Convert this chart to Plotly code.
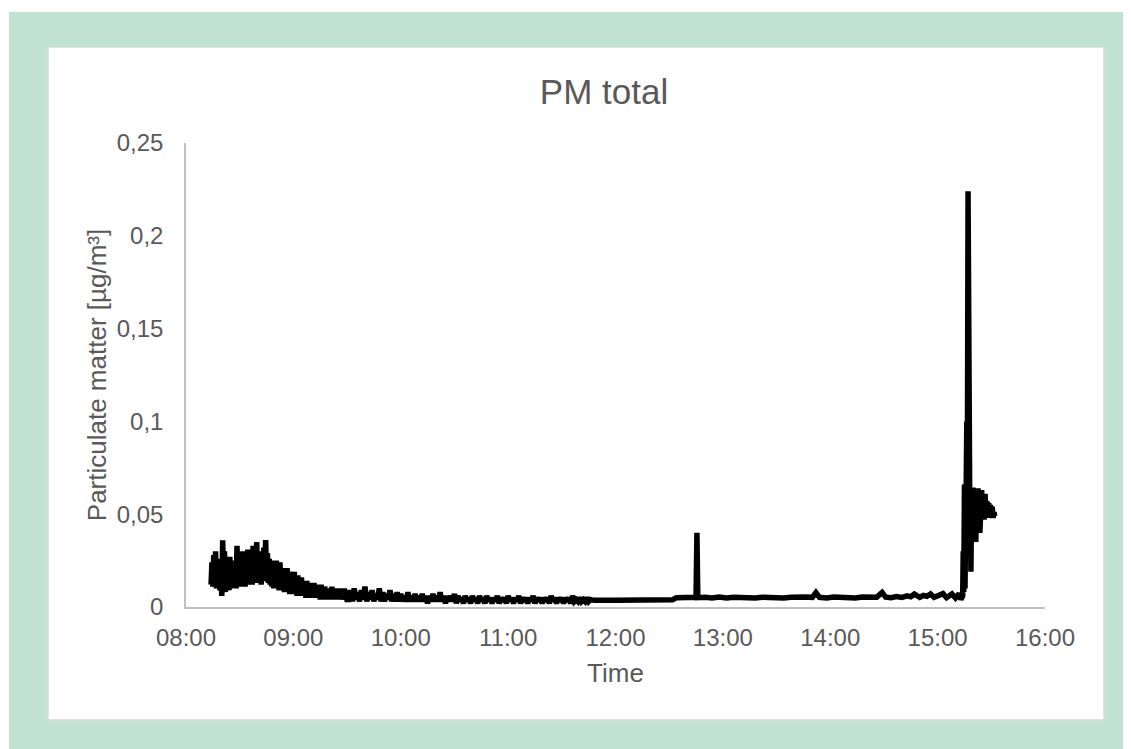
import plotly.graph_objects as go
from datetime import datetime, timedelta

# ---------------- data (minutes after 08:00, PM value) ----------------
# segment 1: every 30 s from 08:14:00 to 09:30:00
seg1_start, seg1_step = 14.0, 0.5
seg1_values = [
    0.012, 0.024, 0.011, 0.028, 0.013, 0.030, 0.010, 0.026, 0.012, 0.022,
    0.009, 0.018, 0.006, 0.036, 0.011, 0.030, 0.008, 0.024, 0.010, 0.020,
    0.009, 0.027, 0.011, 0.022, 0.010, 0.025, 0.012, 0.021, 0.010, 0.033,
    0.012, 0.028, 0.011, 0.024, 0.012, 0.030, 0.013, 0.026, 0.011, 0.028,
    0.013, 0.031, 0.012, 0.025, 0.014, 0.029, 0.012, 0.033, 0.013, 0.027,
    0.014, 0.035, 0.013, 0.028, 0.015, 0.030, 0.012, 0.026, 0.014, 0.032,
    0.015, 0.036, 0.016, 0.029, 0.013, 0.026, 0.012, 0.025, 0.011, 0.024,
    0.010, 0.022, 0.011, 0.025, 0.010, 0.021, 0.009, 0.024, 0.010, 0.020,
    0.009, 0.021, 0.008, 0.019, 0.009, 0.021, 0.008, 0.018, 0.007, 0.019,
    0.008, 0.017, 0.007, 0.019, 0.007, 0.016, 0.006, 0.017, 0.007, 0.015,
    0.006, 0.016, 0.006, 0.014, 0.007, 0.013, 0.005, 0.014, 0.006, 0.012,
    0.005, 0.013, 0.006, 0.011, 0.005, 0.013, 0.005, 0.011, 0.005, 0.012,
    0.005, 0.010, 0.004, 0.012, 0.005, 0.010, 0.004, 0.011, 0.005, 0.009,
    0.004, 0.010, 0.005, 0.009, 0.004, 0.011, 0.004, 0.009, 0.004, 0.010,
    0.004, 0.009, 0.004, 0.010, 0.004, 0.009, 0.004, 0.008, 0.004, 0.010,
    0.004, 0.009, 0.004,
]

# segment 2: every minute from 09:31 to 11:46
seg2_start, seg2_step = 91.0, 1.0
seg2_values = [
    0.004, 0.009, 0.003, 0.010, 0.004, 0.008, 0.003, 0.009, 0.004, 0.011,
    0.003, 0.008, 0.004, 0.009, 0.003, 0.007, 0.004, 0.010, 0.003, 0.008,
    0.003, 0.007, 0.004, 0.009, 0.003, 0.007, 0.003, 0.008, 0.003, 0.007,
    0.003, 0.006, 0.003, 0.008, 0.003, 0.006, 0.003, 0.007, 0.003, 0.006,
    0.003, 0.007, 0.003, 0.006, 0.002, 0.006, 0.003, 0.007, 0.003, 0.006,
    0.003, 0.008, 0.003, 0.006, 0.002, 0.006, 0.003, 0.006, 0.003, 0.007,
    0.002, 0.006, 0.003, 0.005, 0.002, 0.006, 0.003, 0.005, 0.002, 0.006,
    0.003, 0.005, 0.002, 0.006, 0.003, 0.005, 0.002, 0.006, 0.003, 0.005,
    0.002, 0.005, 0.003, 0.006, 0.002, 0.005, 0.003, 0.005, 0.002, 0.006,
    0.003, 0.005, 0.002, 0.005, 0.003, 0.006, 0.002, 0.005, 0.003, 0.005,
    0.002, 0.005, 0.003, 0.006, 0.002, 0.005, 0.003, 0.005, 0.002, 0.005,
    0.003, 0.005, 0.002, 0.006, 0.003, 0.005, 0.002, 0.005, 0.003, 0.005,
    0.002, 0.005, 0.003, 0.005, 0.002, 0.006, 0.003, 0.004, 0.003, 0.005,
    0.003, 0.004, 0.003, 0.005, 0.003, 0.004,
]

# segment 3: irregular readings 11:47 - 15:12
seg3_minutes = [228, 240, 250, 262, 272, 274, 280, 285, 285.5, 286, 290, 294, 298,
                302, 306, 310, 314, 318, 322, 326, 330, 334, 338, 342, 346, 350, 352,
                354, 358, 362, 366, 370, 374, 378, 382, 386, 389, 391, 394, 397, 400,
                403, 405, 407, 410, 412, 414, 416, 418, 420, 423, 425, 428, 430, 432]
seg3_values = [0.0036, 0.0037, 0.0036, 0.0038, 0.0039, 0.0050, 0.0050, 0.0052, 0.0400,
               0.0050, 0.0052, 0.0048, 0.0054, 0.0049, 0.0053, 0.0050, 0.0054, 0.0049,
               0.0053, 0.0050, 0.0054, 0.0049, 0.0053, 0.0050, 0.0054, 0.0052, 0.0078,
               0.0052, 0.0049, 0.0054, 0.0050, 0.0053, 0.0049, 0.0054, 0.0050, 0.0053,
               0.0078, 0.0053, 0.0050, 0.0056, 0.0052, 0.0060, 0.0055, 0.0070, 0.0052,
               0.0062, 0.0058, 0.0070, 0.0052, 0.0060, 0.0072, 0.0050, 0.0070, 0.0048,
               0.0072]

# segment 4: the event 15:13 - 15:32
seg4_minutes = [433, 434, 434.3, 434.6, 435, 435.3, 435.6, 436, 436.3, 436.6, 437,
                437.3, 437.6, 438, 438.3, 438.6, 439, 439.3, 439.6, 440, 440.3, 440.6,
                441, 441.3, 441.6, 442, 442.3, 442.6, 443, 443.3, 443.6, 444, 444.3,
                444.6, 445, 445.5, 446, 446.5, 447, 447.5, 448, 448.5, 449, 449.5, 450,
                450.5, 451, 451.5, 452]
seg4_values = [0.004, 0.006, 0.030, 0.008, 0.066, 0.010, 0.045, 0.068, 0.100, 0.060,
               0.224, 0.050, 0.065, 0.045, 0.062, 0.019, 0.060, 0.040, 0.064, 0.046,
               0.062, 0.040, 0.055, 0.035, 0.060, 0.062, 0.046, 0.064, 0.045, 0.063,
               0.040, 0.061, 0.048, 0.063, 0.050, 0.060, 0.047, 0.061, 0.050, 0.057,
               0.048, 0.056, 0.052, 0.055, 0.049, 0.054, 0.048, 0.051, 0.049]

y_tick_values = [0, 0.05, 0.10, 0.15, 0.20, 0.25]
y_tick_labels = ["0", "0,05", "0,1", "0,15", "0,2", "0,25"]

seg1_minutes = [seg1_start + seg1_step * i for i in range(len(seg1_values))]
seg2_minutes = [seg2_start + seg2_step * i for i in range(len(seg2_values))]
minutes = seg1_minutes + seg2_minutes + seg3_minutes + seg4_minutes
values = seg1_values + seg2_values + seg3_values + seg4_values

base = datetime(2020, 1, 1, 8, 0, 0)
times = [base + timedelta(minutes=m) for m in minutes]

# ---------------- figure ----------------
W, H = 1123, 741
L, R, T, B = 178, 1037, 135, 599
pw, ph = R - L, B - T


def px(x):
    return (x - L) / pw


def py(y):
    return (B - y) / ph


GREEN = "#C0E2D3"
TXT = "#595959"
AX = "#BFBFBF"
FONT = "Liberation Sans, Arial, sans-serif"

fig = go.Figure()
fig.add_trace(go.Scatter(x=times, y=values, mode="lines",
                         line=dict(color="#000000", width=5.5),
                         showlegend=False, hoverinfo="skip"))

shapes = [
    dict(type="rect", xref="paper", yref="paper", layer="below",
         x0=px(40), x1=px(1096), y0=py(712), y1=py(39),
         fillcolor="#FFFFFF", line=dict(color="#D9D9D9", width=1.5)),
    dict(type="rect", xref="paper", yref="paper", layer="below",
         x0=px(0), x1=px(W), y0=py(4), y1=py(0),
         fillcolor="#FFFFFF", line=dict(width=0)),
    dict(type="rect", xref="paper", yref="paper", layer="below",
         x0=px(0), x1=px(1), y0=py(H), y1=py(0),
         fillcolor="#FFFFFF", line=dict(width=0)),
]

fig.update_layout(
    width=W, height=H,
    margin=dict(l=L, r=W - R, t=T, b=H - B, autoexpand=False),
    paper_bgcolor=GREEN,
    plot_bgcolor="#FFFFFF",
    shapes=shapes,
    font=dict(family=FONT, color=TXT, size=24),
    title=dict(text="PM total", xref="container", x=596 / W, xanchor="center",
               yref="container", y=1 - 84 / H, yanchor="middle",
               font=dict(family=FONT, size=35, color=TXT)),
    xaxis=dict(
        type="date",
        range=[base, base + timedelta(hours=8)],
        dtick=3600000, tick0=base, tickformat="%H:%M",
        showline=True, linecolor=AX, linewidth=1.5,
        showgrid=False, zeroline=False, ticks="",
        ticklabelstandoff=8,
        tickfont=dict(family=FONT, size=24, color=TXT),
        title=dict(text="Time", standoff=14,
                   font=dict(family=FONT, size=26, color=TXT)),
    ),
    yaxis=dict(
        range=[0, 0.25],
        tickvals=y_tick_values, ticktext=y_tick_labels,
        showline=True, linecolor=AX, linewidth=1.5,
        showgrid=False, zeroline=False, ticks="",
        ticklabelstandoff=16,
        tickfont=dict(family=FONT, size=24, color=TXT),
        title=dict(text="Particulate matter [µg/m³]", standoff=3,
                   font=dict(family=FONT, size=26, color=TXT)),
    ),
)

fig.write_html("out.html")
